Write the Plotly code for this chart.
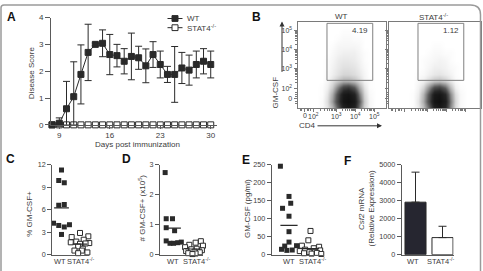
import math
import plotly.graph_objects as go

W, H = 483, 271
def fx(p): return p / W
def fy(p): return 1 - p / H

FONT = "Liberation Sans, Arial, sans-serif"
TXT = "#3c3c3c"
AXC = "#5a5a5a"
INK = "#2a2a2a"

# ---------------- Panel A data ----------------
days = [8, 9, 10, 11, 12, 13, 14, 15, 16, 17, 18, 19, 20, 21, 22, 23, 24, 25, 26, 27, 28, 29, 30]
wt_score = [0, 0.06, 0.6, 1.05, 1.88, 2.7, 3.0, 3.04, 2.62, 2.58, 2.37, 2.55, 2.5, 2.2, 2.62, 2.25,
            1.88, 1.88, 2.12, 2.04, 2.25, 2.37, 2.25]
wt_sem = [0, 0.2, 1.02, 1.3, 1.1, 1.05, 0.05, 0.5, 0.75, 0.42, 0.47, 0.87, 0.43, 0.63, 0.48, 0.5,
          0.3, 1.04, 0.58, 0.56, 0.5, 0.47, 0.5]
stat4_score = [0, 0, 0, 0, 0, 0, 0, 0, 0, 0, 0, 0, 0, 0, 0, 0, 0, 0, 0, 0, 0, 0, 0]
a_ticks = [9, 16, 23, 30]

# ---------------- Panel B data (flow density, display units) ----------------
flow_u = [22, 28, 34, 40, 46, 52, 58, 64, 70, 76, 82, 88]
flow_v = [0, 8, 16, 24, 32, 40, 48, 56, 64, 72, 80, 88, 96]
wt_density = [
    [0, 0.2, 0.8, 2, 5, 8, 9, 8, 4, 1.2, 0.3, 0],
    [0, 0.2, 1, 3, 6.5, 9.5, 10, 9, 5, 1.5, 0.3, 0],
    [0, 0.1, 0.8, 2.5, 6, 9, 9.5, 8, 4, 1.2, 0.2, 0],
    [0, 0.1, 0.5, 1.5, 4, 6, 6.5, 5, 2.5, 0.8, 0.1, 0],
    [0, 0, 0.3, 0.9, 1.8, 2.5, 2.5, 2, 1.2, 0.4, 0.1, 0],
    [0, 0, 0.2, 0.5, 0.9, 1.2, 1.2, 1, 0.7, 0.3, 0, 0],
    [0, 0, 0.1, 0.4, 0.7, 0.9, 0.9, 0.8, 0.5, 0.2, 0, 0],
    [0, 0, 0.1, 0.3, 0.6, 0.7, 0.7, 0.6, 0.4, 0.1, 0, 0],
    [0, 0, 0, 0.2, 0.4, 0.5, 0.5, 0.5, 0.3, 0.1, 0, 0],
    [0, 0, 0, 0.1, 0.3, 0.3, 0.3, 0.3, 0.2, 0, 0, 0],
    [0, 0, 0, 0, 0.1, 0.2, 0.2, 0.1, 0.1, 0, 0, 0],
    [0, 0, 0, 0, 0, 0.1, 0.1, 0, 0, 0, 0, 0],
    [0, 0, 0, 0, 0, 0, 0, 0, 0, 0, 0, 0],
]
stat4_density = [
    [0, 0.1, 0.6, 1.8, 4.5, 8, 9, 7.5, 3.5, 1, 0.2, 0],
    [0, 0.1, 0.8, 2.5, 6, 9.5, 10, 8.5, 4, 1.2, 0.2, 0],
    [0, 0.1, 0.6, 2.2, 5.5, 9, 9.5, 7.5, 3.5, 1, 0.2, 0],
    [0, 0, 0.4, 1.2, 3.5, 5.5, 6, 4.5, 2, 0.5, 0.1, 0],
    [0, 0, 0.2, 0.5, 1.2, 1.8, 2, 1.5, 0.8, 0.2, 0, 0],
    [0, 0, 0.1, 0.2, 0.5, 0.7, 0.8, 0.6, 0.4, 0.1, 0, 0],
    [0, 0, 0, 0.1, 0.3, 0.5, 0.5, 0.4, 0.2, 0.1, 0, 0],
    [0, 0, 0, 0.1, 0.2, 0.3, 0.4, 0.3, 0.1, 0, 0, 0],
    [0, 0, 0, 0, 0.1, 0.2, 0.2, 0.1, 0.1, 0, 0, 0],
    [0, 0, 0, 0, 0, 0.1, 0.1, 0, 0, 0, 0, 0],
    [0, 0, 0, 0, 0, 0, 0, 0, 0, 0, 0, 0],
    [0, 0, 0, 0, 0, 0, 0, 0, 0, 0, 0, 0],
    [0, 0, 0, 0, 0, 0, 0, 0, 0, 0, 0, 0],
]
flow_x_ticks = [8, 18, 44, 66, 88]
flow_x_labels = ["0", "10<sup>2</sup>", "10<sup>3</sup>", "10<sup>4</sup>", "10<sup>5</sup>"]
flow_y_ticks = [11, 23, 46, 68, 90]
flow_y_labels = ["0", "10<sup>2</sup>", "10<sup>3</sup>", "10<sup>4</sup>", "10<sup>5</sup>"]
gate_box = [33.5, 85.5, 32.6, 98.9]
gate_pct = ["4.19", "1.12"]
flow_titles = ["WT", "STAT4<sup>-/-</sup>"]

# ---------------- Panels C-F data ----------------
groups = ["WT", "STAT4<sup>-/-</sup>"]
pct_wt = [11.3, 9.9, 9.6, 6.6, 6.7, 4.2, 3.9, 3.7, 4.0, 2.7]
pct_ko = [2.9, 2.45, 2.35, 2.0, 1.75, 1.65, 1.55, 1.45, 1.5, 1.1, 0.8, 0.55, 0.55, 0.3, 0.2]
num_wt = [2.74, 1.2, 1.2, 0.9, 0.8, 0.46, 0.38, 0.38, 0.4, 0.42]
num_ko = [0.45, 0.4, 0.33, 0.3, 0.25, 0.2, 0.18, 0.15, 0.12, 0.1, 0.08, 0.05, 0.04, 0.02]
pg_wt = [246, 162, 143, 129, 107, 64, 35, 25, 24, 15, 12, 13]
pg_ko = [66, 40, 25, 22, 18, 14, 12, 10, 8, 7, 5, 4, 3, 2]
csf2_mean = [2920, 950]
csf2_sem = [1670, 630]

# horizontal scatter offsets (layout only)
off_pct_wt = [0, -0.15, 0.15, -0.15, 0.15, -0.43, -0.15, 0.15, 0.43, 0]
off_pct_ko = [0.0, 0.45, -0.45, 0.2, -0.2, -0.5, 0.5, 0.0, 0.3, -0.1, 0.15, -0.3, 0.1, 0.4, -0.1]
off_num_wt = [-0.35, -0.3, 0.0, -0.3, 0.1, -0.3, -0.12, 0.05, 0.25, 0.42]
off_num_ko = [0.35, 0.1, -0.2, 0.45, -0.4, 0.15, -0.1, 0.4, -0.35, 0.05, 0.3, -0.25, 0.1, -0.05]
off_pg_wt = [-0.4, 0.0, 0.08, -0.3, 0.0, 0.0, 0.0, 0.35, -0.2, -0.35, -0.1, 0.15]
off_pg_ko = [0.0, -0.1, -0.4, 0.4, 0.15, -0.25, 0.45, -0.5, 0.2, -0.05, 0.3, -0.3, 0.05, 0.5]

fig = go.Figure()

def tickfont(size=8):
    return dict(size=size, color=TXT, family=FONT)

def base_axis(domain, rng, anchor, **kw):
    d = dict(domain=domain, range=rng, anchor=anchor, showgrid=False, zeroline=False,
             showline=True, linecolor=AXC, linewidth=1, ticks="outside", ticklen=4,
             tickcolor=AXC, tickwidth=1, tickfont=tickfont(), fixedrange=True, tickangle=0)
    d.update(kw)
    return d

layout_axes = {}
shapes = []
annots = []

def ann(x, y, text, size=8, xanchor="center", yanchor="middle", angle=0, bold=False, color=TXT, **kw):
    t = f"<b>{text}</b>" if bold else text
    d = dict(x=x, y=y, xref=kw.pop("xref", "paper"), yref=kw.pop("yref", "paper"), text=t, showarrow=False,
             font=dict(size=size, color=color, family=FONT), xanchor=xanchor, yanchor=yanchor,
             textangle=angle)
    d.update(kw)
    annots.append(d)

# ---------- Panel A ----------
layout_axes["xaxis"] = base_axis([fx(51), fx(217)], [7.85, 30.87], "y",
                                 tickmode="array", tickvals=a_ticks, ticklen=3)
layout_axes["yaxis"] = base_axis([fy(125), fy(14)], [0, 4], "x",
                                 tickmode="array", tickvals=[0, 1, 2, 3, 4], ticklen=5)

fig.add_trace(go.Scatter(x=days, y=stat4_score, mode="lines+markers", xaxis="x", yaxis="y",
                         line=dict(color=INK, width=1),
                         marker=dict(symbol="square", size=6, color="white", line=dict(color=INK, width=1)),
                         cliponaxis=False, hoverinfo="skip"))
fig.add_trace(go.Scatter(x=days, y=wt_score, mode="lines+markers", xaxis="x", yaxis="y",
                         line=dict(color=INK, width=1),
                         marker=dict(symbol="square", size=6, color=INK, line=dict(color=INK, width=1)),
                         error_y=dict(type="data", array=wt_sem,
                                      arrayminus=[min(e, v) for e, v in zip(wt_sem, wt_score)],
                                      color=INK, thickness=1, width=3.5),
                         cliponaxis=False, hoverinfo="skip"))

# legend (panel A)
for i, (lbl, fill) in enumerate([("WT", INK), ("STAT4<sup>-/-</sup>", "white")]):
    yy = 15 + i * 9.5
    shapes.append(dict(type="line", xref="paper", yref="paper", x0=fx(167.5), x1=fx(182.5),
                       y0=fy(yy), y1=fy(yy), line=dict(color=INK, width=1)))
    shapes.append(dict(type="rect", xref="paper", yref="paper", x0=fx(172), x1=fx(178),
                       y0=fy(yy + 3), y1=fy(yy - 3), fillcolor=fill, line=dict(color=INK, width=1)))
    ann(fx(185), fy(yy), lbl, xanchor="left")

ann(fx(137), fy(145.5), "Days post immunization")
ann(fx(31.5), fy(71), "Disease Score", angle=-90)

# ---------- Panel B ----------
GRAY = [[0, "#ffffff"], [0.04, "#f3f3f3"], [0.12, "#d6d6d6"], [0.3, "#9a9a9a"],
        [0.5, "#575757"], [0.75, "#272727"], [1, "#111111"]]

def minor_vals(decades):
    vals = []
    for (a, b) in zip(decades[:-1], decades[1:]):
        for k in range(2, 10):
            vals.append(a + (b - a) * math.log10(k))
    return vals

x_minor = minor_vals([18, 44, 66, 88]) + [3, 5, 11, 13, 15]
y_minor = minor_vals([23, 46, 68, 90]) + [6, 8, 14, 16, 18]

def flow_axis(domain, rng, anchor, tv, tt, labels, minor):
    return dict(domain=domain, range=rng, anchor=anchor, showgrid=False, zeroline=False,
                showline=True, mirror=True, linecolor="#7a7a7a", linewidth=1,
                ticks="outside", ticklen=3, tickcolor="#7a7a7a", tickwidth=1,
                tickmode="array", tickvals=tv, ticktext=tt, showticklabels=labels,
                tickfont=tickfont(7), fixedrange=True, tickangle=0,
                minor=dict(tickmode="array", tickvals=minor, ticks="outside", ticklen=2,
                           tickcolor="#7a7a7a", showgrid=False))

layout_axes["xaxis2"] = flow_axis([fx(297.5), fx(385.5)], [0, 100], "y2", flow_x_ticks, flow_x_labels, False, x_minor)
layout_axes["yaxis2"] = flow_axis([fy(108), fy(19)], [0, 100], "x2", flow_y_ticks, flow_y_labels, True, y_minor)
layout_axes["xaxis3"] = flow_axis([fx(388.5), fx(480.5)], [0, 104.5], "y3", flow_x_ticks, flow_x_labels, False, x_minor)
layout_axes["yaxis3"] = flow_axis([fy(108), fy(19)], [0, 100], "x3", flow_y_ticks, flow_y_labels, False, y_minor)

for dens, xa, ya in [(wt_density, "x2", "y2"), (stat4_density, "x3", "y3")]:
    fig.add_trace(go.Heatmap(x=flow_u, y=flow_v, z=dens, xaxis=xa, yaxis=ya, zsmooth="best",
                             colorscale=GRAY, zmin=0, zmax=10, showscale=False, hoverinfo="skip"))

# flow x tick labels placed just under the left plot
for tv, tt in zip(flow_x_ticks, flow_x_labels):
    ann(tv, fy(115.5), tt, size=7, xref="x2", yref="paper")

for i, (xa, ya) in enumerate([("x2", "y2"), ("x3", "y3")]):
    shapes.append(dict(type="rect", xref=xa, yref=ya, x0=gate_box[0], x1=gate_box[1],
                       y0=gate_box[2], y1=gate_box[3], line=dict(color="#808080", width=1)))
    ann(gate_box[1] - 3, 90.5, gate_pct[i], size=8, xanchor="right", xref=xa, yref=ya)

ann(fx(341), fy(13), flow_titles[0])
ann(fx(433), fy(13), flow_titles[1])
ann(fx(275), fy(91.5), "GM-CSF", angle=-90)
ann(fx(307.5), fy(126), "CD4")
annots.append(dict(x=fx(282), y=fy(18), ax=0, ay=52, xref="paper", yref="paper", text="",
                   showarrow=True, arrowhead=2, arrowsize=1, arrowwidth=1, arrowcolor="#333"))
annots.append(dict(x=fx(382), y=fy(126), ax=-66, ay=0, xref="paper", yref="paper", text="",
                   showarrow=True, arrowhead=2, arrowsize=1, arrowwidth=1, arrowcolor="#333"))

# ---------- Panels C-F ----------
def xrange_for(axis_px, wt_px, ko_px, end_px):
    unit = ko_px - wt_px
    return [1 - (wt_px - axis_px) / unit, 1 + (end_px - wt_px) / unit]

YB, YT = 259.3, 166.3
panels = [
    # axis name, x px spec (axis, WT, KO, end), y range, y ticks, label centers (px)
    ("4", (52.3, 61.5, 80.0, 89.3), [0, 12], [0, 3, 6, 9, 12], (59.5, 80.5)),
    ("5", (160, 172.5, 193.5, 203), [0, 3], [0, 1, 2, 3], (173, 196)),
    ("6", (271.7, 289, 310.5, 323), [0, 250], [0, 50, 100, 150, 200, 250], (289, 312)),
    ("7", (401.7, 415.5, 442.5, 453.5), [0, 5000], [0, 1000, 2000, 3000, 4000, 5000], (413, 440)),
]
for n, px, yr, yt, lab in panels:
    layout_axes["xaxis" + n] = base_axis([fx(px[0]), fx(px[3])], xrange_for(*px), "y" + n,
                                         tickmode="array", tickvals=[1, 2], ticks="", showticklabels=False)
    layout_axes["yaxis" + n] = base_axis([fy(YB), fy(YT)], yr, "x" + n,
                                         tickmode="array", tickvals=yt, ticklen=4, tickfont=tickfont(7.2))
    for g, cx in zip(groups, lab):
        ann(fx(cx), fy(266), g, size=7.5)

def dot_panel(n, wt, ko, owt, oko):
    fig.add_trace(go.Scatter(x=[1 + o for o in owt], y=wt, mode="markers", xaxis="x" + n, yaxis="y" + n,
                             marker=dict(symbol="square", size=5, color=INK), cliponaxis=False, hoverinfo="skip"))
    fig.add_trace(go.Scatter(x=[2 + o for o in oko], y=ko, mode="markers", xaxis="x" + n, yaxis="y" + n,
                             marker=dict(symbol="square", size=5, color="white", line=dict(color=INK, width=1)),
                             cliponaxis=False, hoverinfo="skip"))
    for c, vals in [(1, wt), (2, ko)]:
        m = sum(vals) / len(vals)
        fig.add_trace(go.Scatter(x=[c - 0.4, c + 0.4], y=[m, m], mode="lines", xaxis="x" + n, yaxis="y" + n,
                                 line=dict(color=INK, width=1.2), cliponaxis=False, hoverinfo="skip"))

dot_panel("4", pct_wt, pct_ko, off_pct_wt, off_pct_ko)
dot_panel("5", num_wt, num_ko, off_num_wt, off_num_ko)
dot_panel("6", pg_wt, pg_ko, off_pg_wt, off_pg_ko)

fig.add_trace(go.Bar(x=[1, 2], y=csf2_mean, width=0.78, xaxis="x7", yaxis="y7",
                     marker=dict(color=["#262630", "white"], line=dict(color=INK, width=1)),
                     error_y=dict(type="data", array=csf2_sem, arrayminus=[0, 0], symmetric=False,
                                  color=INK, thickness=1, width=4),
                     hoverinfo="skip"))

# significance bars
sig = [("4", 1.0, 2.49, 12.55, "***"), ("5", 1.1, 2.4, 3.08, "*"),
       ("6", 0.95, 2.29, 261, "*"), ("7", 0.98, 1.98, 5190, "**")]
for n, x0, x1, y, s in sig:
    shapes.append(dict(type="line", xref="x" + n, yref="y" + n, x0=x0, x1=x1, y0=y, y1=y,
                       line=dict(color=INK, width=1)))
    ann((x0 + x1) / 2, y, s, size=8, yanchor="bottom", xref="x" + n, yref="y" + n, yshift=-4)

ann(fx(30), fy(217), "% GM-CSF+", angle=-90)
ann(fx(141.5), fy(211), "# GM-CSF+ (x10<sup>5</sup>)", angle=-90)
ann(fx(248), fy(212), "GM-CSF (pg/ml)", angle=-90)
ann(fx(362), fy(212), "<i>Csf2</i> mRNA", angle=-90)
ann(fx(371.5), fy(212), "(Relative Expression)", angle=-90)

# panel letters
for lt, x, y in [("A", 11.5, 13.5), ("B", 256, 13.5), ("C", 10.5, 160.5), ("D", 126, 160.8),
                 ("E", 245.5, 161.5), ("F", 347.5, 162)]:
    ann(fx(x), fy(y), lt, size=12, bold=True, color="#111")

# outer frame with rounded top corners
r = 10
path = (f"M {fx(1)},{fy(290)} L {fx(1)},{fy(1 + 3)} Q {fx(1)},{fy(1)} {fx(4)},{fy(1)} "
        f"L {fx(480.5 - r)},{fy(1)} Q {fx(480.5)},{fy(1)} {fx(480.5)},{fy(1 + r)} L {fx(480.5)},{fy(290)}")
shapes.append(dict(type="path", xref="paper", yref="paper", path=path, line=dict(color="#9a9a9a", width=1.5)))

fig.update_layout(width=W, height=H, margin=dict(l=0, r=0, t=0, b=0), paper_bgcolor="white",
                  plot_bgcolor="white", showlegend=False, shapes=shapes, annotations=annots,
                  font=dict(family=FONT, color=TXT), **layout_axes)

fig.write_html("out.html")
